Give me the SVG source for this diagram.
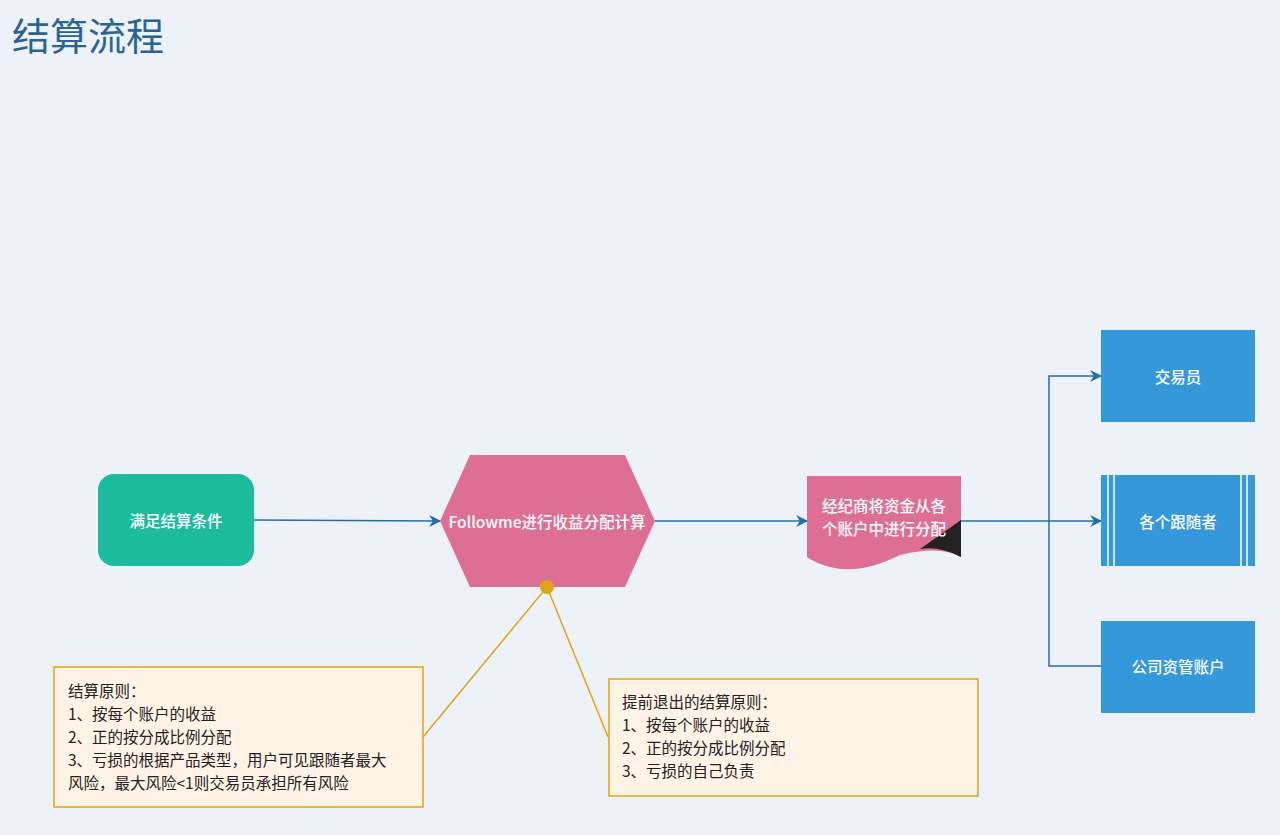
<svg xmlns="http://www.w3.org/2000/svg" width="1280" height="835" viewBox="0 0 1280 835">
<style>
text{font-family:"Noto Sans CJK SC","Liberation Sans",sans-serif}
.w{fill:#fff;font-size:15.5px;font-weight:500;text-anchor:middle;dominant-baseline:central}
.n{fill:#222;font-size:15.5px}
.c{fill:none;stroke:#1f6fa8;stroke-width:1.5}
.y{fill:none;stroke:#e0a418;stroke-width:1.5}
.b{fill:#3498db}
</style>
<defs><marker id="a" viewBox="0 0 10 10" refX="9" refY="5" markerWidth="8" markerHeight="8" orient="auto"><path d="M0,0L10,5L0,10L3,5Z" fill="#1f6fa8"/></marker></defs>
<rect width="1280" height="835" fill="#edf2f8"/>
<text x="12" y="50" font-size="38" fill="#2a6496">结算流程</text>
<g id="n1"><rect x="98" y="474" width="156" height="92" rx="16" fill="#1abc9c"/><text class="w" x="176" y="520">满足结算条件</text></g>
<g id="n2"><polygon points="440,521 470,455 625,455 655,521 625,587 470,587" fill="#de6f94"/><text class="w" x="547" y="521">Followme进行收益分配计算</text></g>
<g id="n3"><path d="M807,476H961V557Q940,545 900,555Q860,575 830,567Q815,563 807,557Z" fill="#de6f94"/><path d="M920,549Q940,535 961,520V557Q940,546 920,549Z" fill="#222"/><text class="w" x="884" y="505">经纪商将资金从各</text><text class="w" x="884" y="528">个账户中进行分配</text></g>
<g id="n4"><rect class="b" x="1101" y="330" width="154" height="92"/><text class="w" x="1178" y="376">交易员</text></g>
<g id="n5"><rect class="b" x="1101" y="475" width="154" height="91"/><path d="M1108,475V566M1114,475V566M1241,475V566M1247,475V566" stroke="#fff" stroke-width="1.5"/><text class="w" x="1178" y="521">各个跟随者</text></g>
<g id="n6"><rect class="b" x="1101" y="621" width="154" height="92"/><text class="w" x="1178" y="666">公司资管账户</text></g>
<g id="note1"><rect x="54" y="667" width="369" height="140" fill="#fff3e5" stroke="#e0a418" stroke-width="1.5"/>
<text class="n"><tspan x="68" y="697">结算原则：</tspan><tspan x="68" y="720">1、按每个账户的收益</tspan><tspan x="68" y="743">2、正的按分成比例分配</tspan><tspan x="68" y="766">3、亏损的根据产品类型，用户可见跟随者最大</tspan><tspan x="68" y="789">风险，最大风险&lt;1则交易员承担所有风险</tspan></text></g>
<g id="note2"><rect x="609" y="679" width="369" height="117" fill="#fff3e5" stroke="#e0a418" stroke-width="1.5"/>
<text class="n"><tspan x="622" y="708">提前退出的结算原则：</tspan><tspan x="622" y="731">1、按每个账户的收益</tspan><tspan x="622" y="754">2、正的按分成比例分配</tspan><tspan x="622" y="777">3、亏损的自己负责</tspan></text></g>
<g id="connectors">
<path class="c" d="M254,520L440,521" marker-end="url(#a)"/>
<path class="c" d="M655,521L807,521" marker-end="url(#a)"/>
<path class="c" d="M961,521L1101,521" marker-end="url(#a)"/>
<path class="c" d="M1049,521L1049,376L1101,376" marker-end="url(#a)"/>
<path class="c" d="M1049,521L1049,666L1101,666"/>
<path class="y" d="M547,587L423,737M547,587L608,737"/>
<circle cx="547" cy="587" r="7" fill="#e0a418"/>
</g>
</svg>
